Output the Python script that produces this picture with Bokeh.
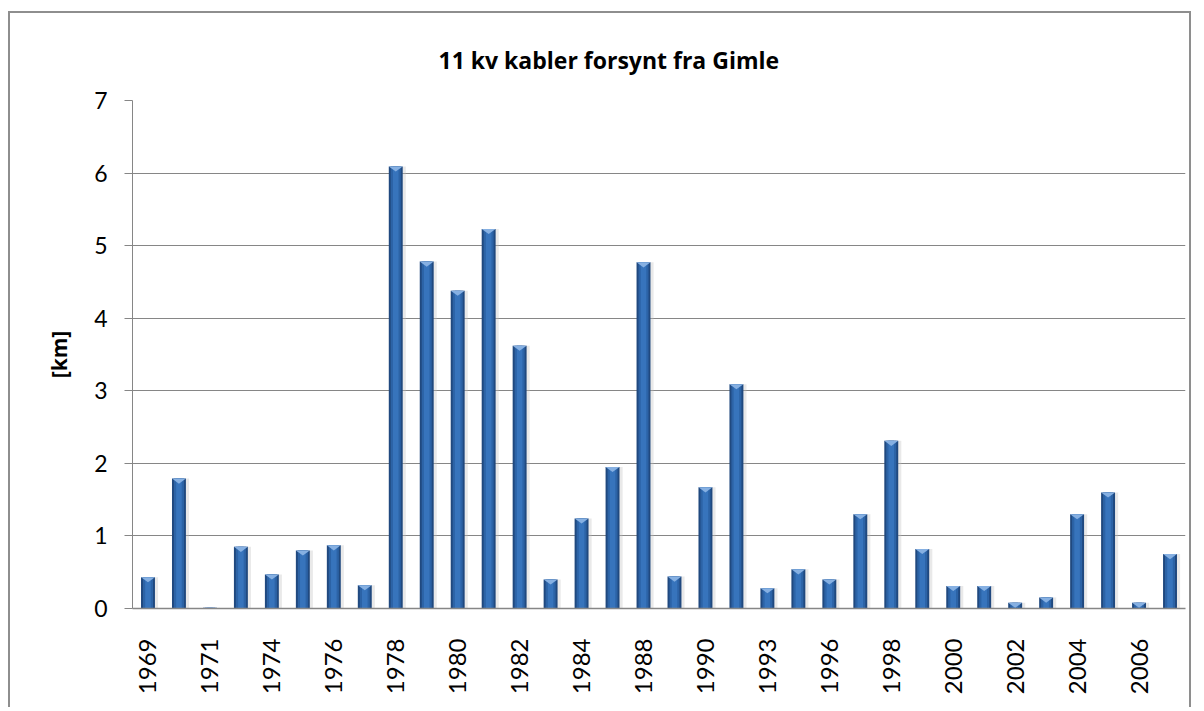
from bokeh.plotting import figure
from bokeh.models import Range1d, FixedTicker, ColumnDataSource, Title
from bokeh.embed import file_html
from bokeh.resources import INLINE

# ---- data ----
years = ["1969", "1970", "1971", "1973", "1974", "1975", "1976", "1977",
         "1978", "1979", "1980", "1981", "1982", "1983", "1984", "1986",
         "1988", "1989", "1990", "1992", "1993", "1995", "1996", "1997",
         "1998", "1999", "2000", "2001", "2002", "2003", "2004", "2005",
         "2006", "2007"]
km = [0.43, 1.79, 0.01, 0.85, 0.47, 0.80, 0.87, 0.32,
      6.09, 4.78, 4.38, 5.23, 3.62, 0.40, 1.24, 1.95,
      4.77, 0.44, 1.67, 3.09, 0.28, 0.54, 0.40, 1.30,
      2.31, 0.82, 0.31, 0.31, 0.08, 0.15, 1.30, 1.60,
      0.08, 0.75]
title_text = "11 kv kabler forsynt fra Gimle"
y_label = "[km]"
y_ticks = [0, 1, 2, 3, 4, 5, 6, 7]

idx = list(range(len(years)))
BW = 0.45
cap = [min(0.07, v) for v in km]
src = ColumnDataSource(dict(
    x=idx, top=km,
    xs=[[i - BW / 2, i + BW / 2, i] for i in idx],
    ys=[[v, v, v - c] for v, c in zip(km, cap)],
    sx=[i + 0.1 for i in idx],
))

p = figure(width=1183, height=696, output_backend="svg", toolbar_location=None,
           x_range=Range1d(-0.5, len(years) - 0.5), y_range=Range1d(0, 7),
           min_border_left=122, min_border_right=8, min_border_top=87,
           min_border_bottom=101)
p.styles = {"margin-left": "8px", "margin-top": "11px",
            "border-top": "2px solid #8e8e8e", "border-left": "2px solid #8e8e8e",
            "border-right": "2px solid #8e8e8e"}
p.outline_line_color = None
p.background_fill_color = "white"
p.border_fill_color = "white"

# bars (layered to mimic bevel look)
p.vbar(x="sx", top="top", width=BW, bottom=0, source=src,
       fill_color="#bfbfbf", fill_alpha=0.35, line_color=None)
p.vbar(x="x", top="top", width=BW, bottom=0, source=src,
       fill_color="#20497F", line_color=None)
p.vbar(x="x", top="top", width=BW * 0.72, bottom=0, source=src,
       fill_color="#2C63A6", line_color=None)
p.vbar(x="x", top="top", width=BW * 0.4, bottom=0, source=src,
       fill_color="#3774BC", line_color=None)
p.patches(xs="xs", ys="ys", source=src, fill_color="#86B0E2", line_color=None)

# axes
p.xaxis.ticker = FixedTicker(ticks=idx[::2])
p.xaxis.major_label_overrides = {i: years[i] for i in idx[::2]}
p.xaxis.major_label_orientation = 3.14159265 / 2
p.xaxis.major_tick_line_color = None
p.xaxis.minor_tick_line_color = None
p.xaxis.axis_line_color = "#868686"
p.xaxis.axis_line_width = 1.5
p.xaxis.major_label_standoff = 24
p.xaxis.major_label_text_font = "Lato"
p.xaxis.major_label_text_font_size = "24px"
p.xaxis.major_label_text_color = "black"

p.yaxis.ticker = FixedTicker(ticks=y_ticks)
p.yaxis.minor_tick_line_color = None
p.yaxis.major_tick_in = 0
p.yaxis.major_tick_out = 8
p.yaxis.major_tick_line_color = "#868686"
p.yaxis.axis_line_color = "#868686"
p.yaxis.major_label_standoff = 17
p.yaxis.major_label_text_font = "Lato"
p.yaxis.major_label_text_font_size = "23px"
p.yaxis.major_label_text_color = "black"
p.yaxis.axis_label = y_label
p.yaxis.axis_label_text_font = "Open Sans"
p.yaxis.axis_label_text_font_style = "bold"
p.yaxis.axis_label_text_font_size = "21px"
p.yaxis.axis_label_text_color = "black"
p.yaxis.axis_label_standoff = 18

p.xgrid.grid_line_color = None
p.ygrid.grid_line_color = "#868686"
p.ygrid.grid_line_width = 1

p.add_layout(Title(text=title_text, align="left", offset=306, standoff=50,
                   text_font="Open Sans", text_font_style="bold", text_font_size="23px",
                   text_color="black"), "above")

open("out.html", "w").write(file_html(p, INLINE))
